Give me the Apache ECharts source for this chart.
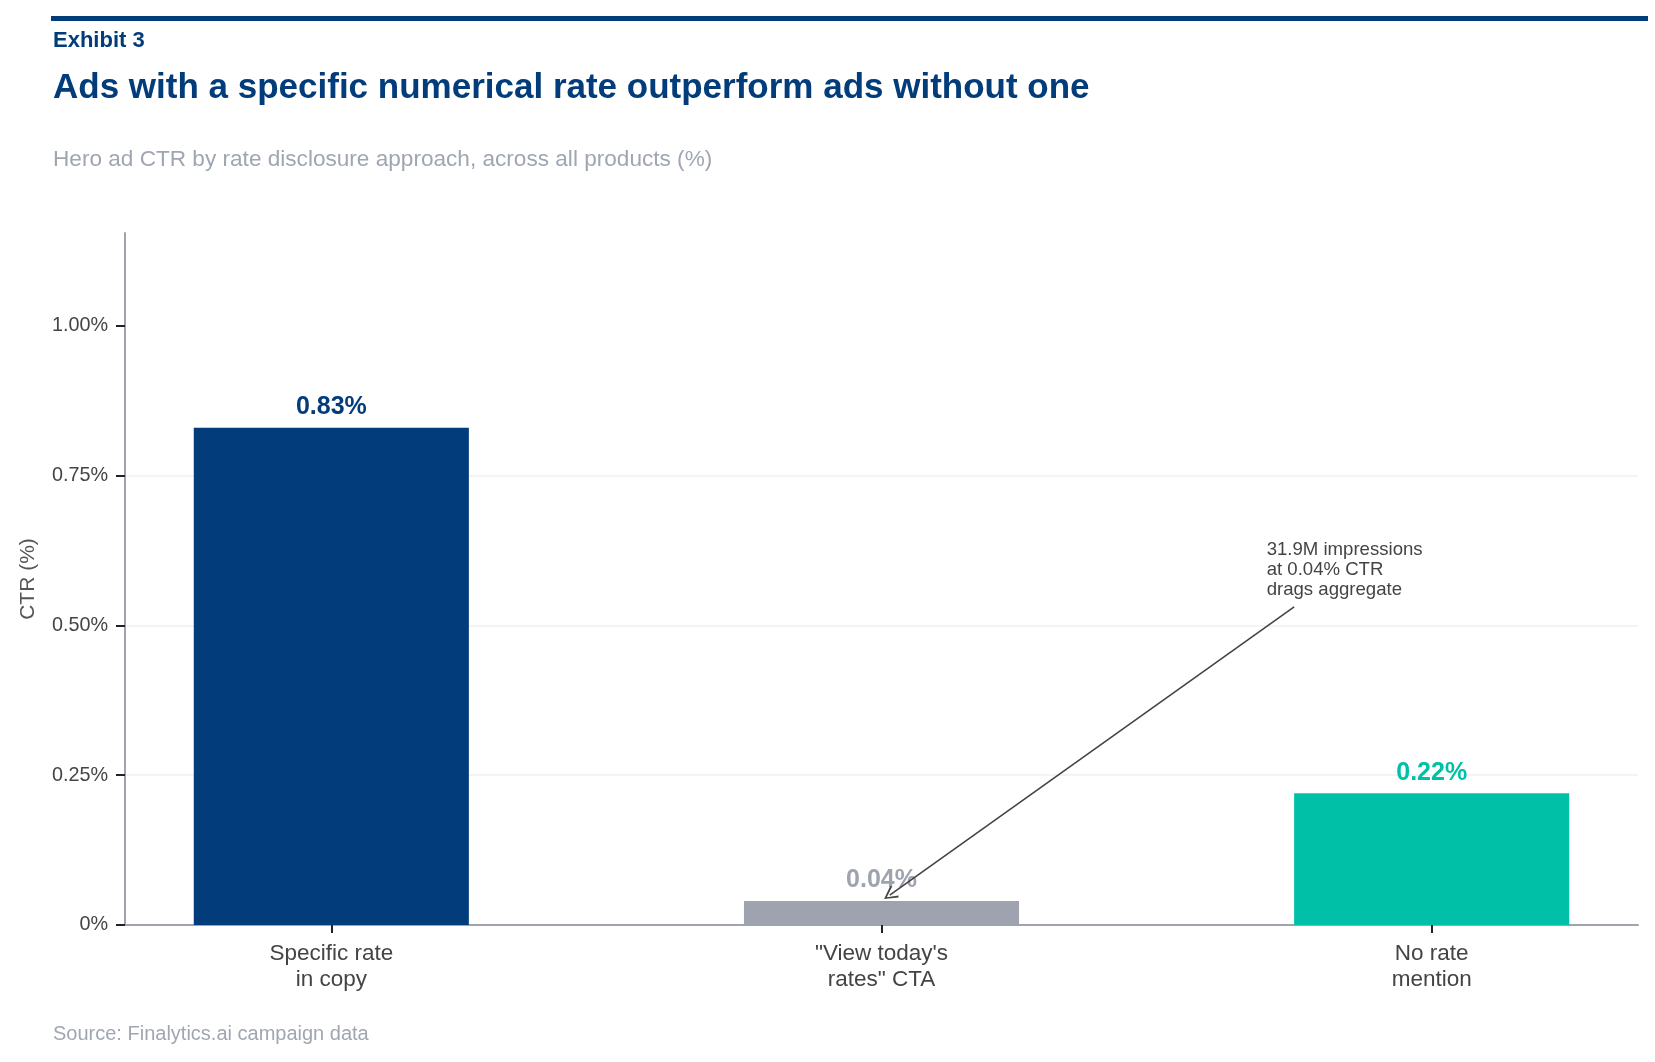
<!DOCTYPE html>
<html>
<head>
<meta charset="utf-8">
<title>Exhibit 3</title>
<script src="https://cdn.jsdelivr.net/npm/echarts@6/dist/echarts.min.js"></script>
<style>
    html, body { margin: 0; padding: 0; background: #fff; }
    #chart { width: 1655px; height: 1062px; }
</style>
</head>
<body>
<div id="chart"></div>
<script>
// 1. 数据
const categories = ['Specific rate\nin copy', '"View today\'s\nrates" CTA', 'No rate\nmention'];
const ctrValues = [0.83, 0.04, 0.22];
const yTicks = [0, 0.25, 0.5, 0.75, 1.0];
const xTicks = [0, 1, 2];
const noteText = '31.9M impressions\nat 0.04% CTR\ndrags aggregate';
// annotation: arrow from text to the CTA bar, in data units
const arrowFrom = [1.75, 0.531];
const arrowTo = [1.015, 0.05];
const notePos = [1.70, 0.642];

// 2. 样式
const barColors = ['#023c7a', '#9ea3af', '#00c1a7'];
const labelColors = ['#023c7a', '#9ea3af', '#00c1a7'];
const font = '"Liberation Sans", Arial, sans-serif';

let myChart = echarts.init(document.getElementById('chart'));

let barData = ctrValues.map(function (v, i) {
    return {
        value: [i, v],
        itemStyle: { color: barColors[i] },
        label: { color: labelColors[i] }
    };
});

let option = {
    animation: false,
    backgroundColor: '#fff',
    textStyle: { fontFamily: font },
    graphic: [
        { type: 'rect', shape: { x: 51, y: 16, width: 1597, height: 5 }, style: { fill: '#023c7a' } },
        { type: 'text', x: 53, y: 41, style: { text: 'Exhibit 3', font: 'bold 22px ' + font, fill: '#023c7a', verticalAlign: 'middle' } },
        { type: 'text', x: 53, y: 88, style: { text: 'Ads with a specific numerical rate outperform ads without one', font: 'bold 35px ' + font, fill: '#023c7a', verticalAlign: 'middle' } },
        { type: 'text', x: 53, y: 160, style: { text: 'Hero ad CTR by rate disclosure approach, across all products (%)', font: '22.6px ' + font, fill: '#a0a6b1', verticalAlign: 'middle' } },
        { type: 'text', x: 53, y: 1034, style: { text: 'Source: Finalytics.ai campaign data', font: '20px ' + font, fill: '#a0a6b1', verticalAlign: 'middle' } }
    ],
    grid: { left: 125, right: 17, top: 233, bottom: 137 },
    xAxis: {
        type: 'value',
        min: -0.375,
        max: 2.375,
        splitLine: { show: false },
        axisLine: { show: true, lineStyle: { color: '#9ea3af', width: 2 } },
        axisTick: { show: true, customValues: xTicks, length: 8, lineStyle: { color: '#222', width: 2 } },
        axisLabel: {
            customValues: xTicks,
            formatter: function (v) { return categories[Math.round(v)]; },
            fontSize: 22.5,
            lineHeight: 26,
            color: '#444',
            margin: 16
        }
    },
    yAxis: {
        type: 'value',
        min: 0,
        max: 1.155,
        name: 'CTR (%)',
        nameLocation: 'middle',
        nameGap: 86,
        nameTextStyle: { fontSize: 21, color: '#555' },
        axisLine: { show: true, onZero: false, lineStyle: { color: '#9ea3af', width: 2 } },
        axisTick: { show: true, customValues: yTicks, length: 9, lineStyle: { color: '#222', width: 2 } },
        axisLabel: {
            customValues: yTicks,
            formatter: function (v) { return v === 0 ? '0%' : v.toFixed(2) + '%'; },
            fontSize: 19.8,
            color: '#444',
            margin: 17
        },
        splitLine: { show: true, showMinLine: false, showMaxLine: false, lineStyle: { color: '#f0f0f0', width: 1.5 } }
    },
    series: [{
        type: 'bar',
        data: barData,
        barWidth: '50%',
        label: {
            show: true,
            position: 'top',
            distance: 8,
            fontSize: 25,
            fontWeight: 'bold',
            formatter: function (p) { return p.value[1].toFixed(2) + '%'; }
        },
        markLine: {
            silent: true,
            symbol: ['none', 'path://M5,0 L10,9 L9,10 L5,2.4 L1,10 L0,9 Z'],
            symbolSize: [14, 14],
            lineStyle: { color: '#444', width: 1.6, type: 'solid' },
            label: { show: false },
            data: [[{ coord: arrowFrom }, { coord: arrowTo }]]
        },
        markPoint: {
            silent: true,
            symbol: 'circle',
            symbolSize: 0,
            label: {
                show: true,
                position: [0, 0],
                align: 'left',
                verticalAlign: 'top',
                fontSize: 18.6,
                lineHeight: 20,
                color: '#444',
                formatter: noteText
            },
            data: [{ coord: notePos }]
        }
    }]
};
myChart.setOption(option);
</script>
</body>
</html>
